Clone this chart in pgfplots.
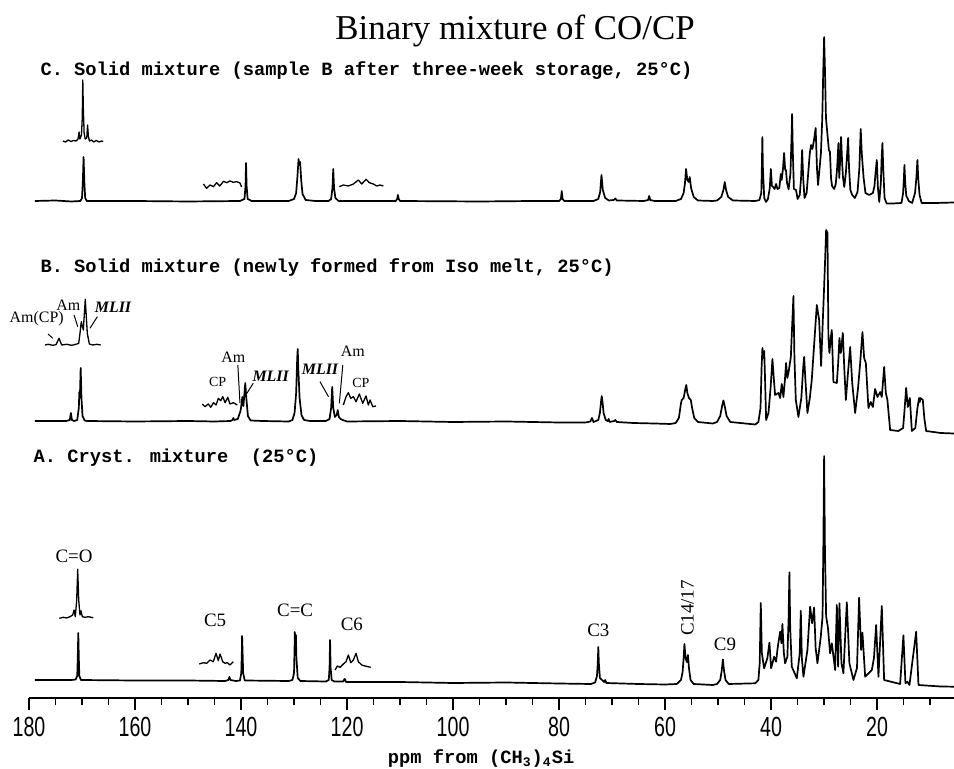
\documentclass[border=0pt]{standalone}
\usepackage{fontspec}
\setmainfont{Liberation Serif}
\newfontfamily\monofont{Liberation Mono}
\newfontfamily\sansfont{Liberation Sans}
\usepackage{pgfplots}
\pgfplotsset{compat=1.18}

\newcommand\lab{\fontsize{9.4}{11}\selectfont\monofont\bfseries}
\newcommand\tl[1]{\scalebox{0.85}[1.2]{#1}}

\begin{document}
\begin{tikzpicture}
\useasboundingbox (-14.5bp,-35.5bp) rectangle (462.5bp,349bp);
\begin{axis}[
  scale only axis,
  width=462.5bp, height=349bp,
  x dir=reverse,
  xmin=5.5, xmax=180, ymin=0, ymax=698,
  axis x line*=bottom, axis y line=none,
  ytick=\empty,
  xtick={20,40,60,80,100,120,140,160,180},
  xticklabels={\tl{20},\tl{40},\tl{60},\tl{80},\tl{100},\tl{120},\tl{140},\tl{160},\tl{180}},
  minor xtick={10,15,...,175},
  tick align=outside,
  major tick length=6bp, minor tick length=3.5bp,
  every tick/.style={black, line width=0.8bp},
  axis line style={line width=1bp},
  xticklabel style={font=\fontsize{11.6}{12}\selectfont\sansfont},
  clip=false,
  spec/.style={black, line width=0.85bp, line join=round, no markers},
  ins/.style={black, line width=0.65bp, line join=round, no markers},
]
% ---------- C. solid mixture after storage
\addplot[spec] coordinates {
(178.9,497)(175,497.5)(172,496.5)(170.3,497)(170.0,500)(169.85,515)(169.7,541)(169.55,515)(169.4,500)(169.1,497)
(160,497)(150,496.5)(140.2,497)(139.35,499)(139.15,512)(139.05,535)(138.95,512)(138.75,499)(138,497)
(131,497)(130.0,499)(129.6,505)(129.35,522)(129.15,539)(129.0,533)(128.85,536)(128.65,518)(128.4,504)(127.8,498)(126,497)
(123.5,497)(123.0,499)(122.75,510)(122.6,529)(122.45,510)(122.2,500)(121.6,497)
(115,497)(110.8,497)(110.55,499)(110.4,503)(110.25,499)(110,497)
(95,496.5)(85,497)(80,497)(79.65,499)(79.5,507)(79.35,499)(79,497)
(73.5,497)(72.6,499)(72.25,506)(72.0,523)(71.75,508)(71.3,500)(70.6,497.5)(69.7,498)(69.4,499.5)(69.1,497.5)
(64,497)(63.2,498)(63.0,502)(62.8,498)(62,497)
(58,497)(57.0,499)(56.5,505)(56.25,515)(56.05,529)(55.8,518)(55.55,516)(55.35,521)(55.1,510)(54.6,501)(53.8,497.5)(51,497)
(50.2,497.5)(49.4,501)(49.0,508)(48.75,516)(48.5,508)(48.1,501)(47.2,497.5)(43,497)
(42.2,498)(41.85,505)(41.75,530)(41.65,561)(41.55,530)(41.3,500)(40.95,496)
(40.6,499)(40.25,510)(40.05,529)(39.85,512)(39.6,511)(39.35,509)(39.06,514)(38.8,509)(38.45,510)(38.17,524)(38.0,518)
(37.75,530)(37.55,545)(37.35,528)(37.2,528)(37.0,515)(36.7,508.7)(36.35,525)(36.15,560)(36.04,584)(35.9,545)(35.7,509)(35.3,508)(35.0,499)
(34.6,503)(34.35,520)(34.15,548)(33.95,520)(33.7,500)(33.3,505)(33.0,525)(32.7,545)(32.45,553)(32.2,549)(31.85,560)(31.6,570)(31.35,530)(31.15,513)
(30.85,530)(30.6,545)(30.35,580)(30.15,630)(30.0,661)(29.85,630)(29.65,580)(29.4,565)(29.1,548)(28.9,546)(28.7,520)(28.5,512)(28.1,509)
(27.8,514)(27.55,530)(27.3,555)(27.15,520)(26.95,540)(26.8,561)(26.6,535)(26.45,521)(26.2,511)(25.9,525)(25.65,545)(25.47,560)(25.3,530)(25.05,508)(24.7,503)(24.2,500)
(23.7,506)(23.35,530)(23.1,569)(22.9,545)(22.75,534)(22.55,520)(22.2,505)(21.5,503)(20.8,505)(20.5,512)(20.3,525)(20.06,538)(19.85,510)(19.6,496)
(19.3,515)(19.15,540)(19.0,555)(18.85,530)(18.6,500)(18.2,494.5)(17,494.5)
(15.4,495)(15.1,505)(14.95,520)(14.85,533)(14.7,515)(14.5,502)(14.25,499.7)(14.05,497)(13.4,495)
(12.85,505)(12.6,520)(12.4,538)(12.25,520)(12.0,503)(11.6,495)(9,495)(5.5,495.5)
};
\addplot[ins] coordinates {
(173.6,557)(173.1,556)(172.6,558)(172.1,556.5)(171.6,557.5)(171.1,557)(170.75,559)(170.55,566)(170.4,559)(170.1,563)
(169.95,580)(169.85,618)(169.75,590)(169.6,565)(169.4,559)(169.1,560)(168.95,573)(168.8,562)(168.6,557)(168.2,558)
(167.8,556)(167.3,557.5)(166.8,556)(166.3,557)(166.0,556.5)
};
\addplot[ins] coordinates {
(147.1,514)(146.5,509.7)(145.85,513)(145.2,511.3)(144.6,515.3)(144.0,512)(143.3,516.7)(142.7,515.3)(142.1,517)
(141.45,515.7)(140.8,516.3)(140.2,515)(139.9,511)
};
\addplot[ins] coordinates {
(121.45,511.3)(120.7,513)(119.75,512)(118.8,514)(117.87,518)(117.23,514)(116.4,518.7)(115.8,515.3)(115.04,514)
(114.4,512)(113.77,513)(113.15,512)
};
% ---------- B. newly formed from Iso melt
\addplot[spec] coordinates {
(178.9,277)(173,277)(172.3,278)(172.1,285)(171.9,278)(171.5,277)(170.9,278)(170.6,290)(170.5,306)(170.4,300)(170.25,330)(170.1,300)(169.9,282)(169.5,277.5)(169,277)
(160,276.5)(150,277)(145,276.5)(142,277)(141.6,278)(141.45,280)(141.3,278)(140.6,279)(140.3,284)(140.15,286)(140.0,290)(139.75,301)(139.55,292)(139.35,305)(139.2,315)(139.0,300)(138.7,282)(138.2,277.5)(136,277)
(131,276.5)(130.3,278)(129.9,285)(129.6,305)(129.4,340)(129.3,349)(129.2,330)(128.95,300)(128.6,283)(128.1,278)(127,277)
(124,277)(123.3,279)(123.0,290)(122.8,311)(122.6,290)(122.3,281)(121.95,283)(121.75,288)(121.55,281)(121.2,279)(120.8,278)(120,276.5)
(110,277)(100,276)(90,276.5)(80,275.5)(75,275.5)(74.1,276.5)(73.8,280)(73.5,276)(72.6,278)(72.3,285)(72.05,298)(71.95,302)(71.8,296)(71.6,285)(71.2,278)
(70.8,277)(70.65,279)(70.45,276)(69.6,277)(69.4,278)(69.1,276)(66,275)(62,274.5)(59,274)
(58.0,275)(57.4,280)(57.0,295)(56.85,298)(56.5,300)(56.15,310)(56.0,313)(55.8,305)(55.5,300)(55.15,298)(54.9,290)(54.5,280)(53.8,276)(51,274.5)
(50.2,276)(49.6,282)(49.25,292)(49.0,297.5)(48.75,292)(48.4,282)(47.7,276)(43,273.5)
(42.4,276)(42.0,290)(41.8,330)(41.64,350)(41.5,340)(41.3,347)(41.15,320)(40.94,278)
(40.5,285)(40.1,310)(39.75,339)(39.5,320)(39.25,303)(38.62,305)(38.3,300)(37.99,314)(37.68,301)(37.4,318)(37.17,335)(36.95,320)(36.73,325)(36.5,333)(36.28,341)
(36.05,370)(35.79,402)(35.6,340)(35.34,298)(34.85,281)(34.3,300)(33.95,330)(33.77,341)(33.55,320)(33.15,285)(32.7,300)(32.33,318)(31.8,360)(31.38,393)(31.15,385)(30.94,378)(30.57,332)
(30.3,370)(30.0,411)(29.8,440)(29.62,468)(29.37,465)(29.19,361)(29.0,345)(28.75,360)(28.55,368)(28.25,316)(27.6,315)(27.35,335)(27.11,360)(26.85,345)(26.47,365)(26.2,330)(25.9,298)
(25.5,325)(25.09,351)(24.7,315)(24.15,285)(23.6,310)(23.2,335)(22.77,366)(22.45,340)(22.13,335)(21.64,290)(21.2,296)(20.8,291)(20.38,309)(19.94,301)(19.43,306)(19.12,301)(18.68,331)(18.36,305)(18.06,298)(17.55,268)
(16,267)(15.1,270)(14.8,290)(14.53,310)(14.21,291)(13.83,300)(13.45,267)(12.8,270)(12.4,290)(12.08,300)(11.95,296)(11.83,300)(11.38,298)(11.1,280)(10.75,267)(8,265)(5.5,264.5)
};
\addplot[ins] coordinates {
(176.98,353)(176.36,353.7)(175.53,352.7)(174.9,353.3)(174.34,359.7)(173.83,353)(172.89,353.7)(171.94,352.7)(171.13,353.7)(170.62,354.7)
(170.38,364.7)(170.13,376.3)(169.75,368)(169.38,398.7)(169.0,364.7)(168.62,354)(167.98,353)(167.23,353.7)(166.47,353)
};
\addplot[ins] coordinates {
(147.3,294)(146.8,291.3)(146.17,294)(145.72,290.7)(145.2,295.3)(144.7,293)(144.28,299.7)(143.83,297.3)(143.45,301.3)(143.0,295.3)
(142.5,300.7)(142.08,294)(141.45,295.3)(140.7,293)
};
\addplot[ins] coordinates {
(120.7,293)(120.19,301.3)(119.75,305.3)(119.3,299.7)(118.8,301.3)(118.3,296.3)(117.68,304)(117.04,294.7)(116.42,302)(115.98,293)
(115.66,298)(115.15,291.3)(114.53,292)
};
% ---------- A. crystalline mixture
\addplot[spec] coordinates {
(178.9,18)(172,18)(171.2,18.5)(170.9,22)(170.8,40)(170.7,65)(170.6,40)(170.5,22)(170.2,18)
(160,17.5)(150,17.5)(143,17)(142.4,18)(142.2,21)(142.0,18)(141,17)(140.2,17.5)(139.95,25)(139.85,45)(139.8,62)(139.7,45)(139.6,25)(139.3,17.5)
(131,17)(130.3,18)(130.0,25)(129.9,50)(129.85,66)(129.75,55)(129.65,63)(129.55,40)(129.3,20)(128.8,17)
(124,16.5)(123.45,18)(123.3,30)(123.2,58)(123.1,30)(122.9,18)(122.4,16.5)(120.7,16.5)(120.5,19)(120.35,18.5)(120.2,16)
(110,16)(100,15)(90,15.5)(80,14.5)(74,14)
(73.2,15.5)(72.85,22)(72.7,35)(72.6,51)(72.5,35)(72.3,20)(71.5,16)(71.3,18)(71.1,15)(65,14)(60,13.5)
(57.8,14)(57.0,18)(56.7,26)(56.5,40)(56.35,54)(56.15,40)(55.9,36)(55.7,43)(55.5,30)(55.2,18)(54.6,14)(51,13)
(50.2,14)(49.6,18)(49.3,28)(49.1,38.7)(48.9,28)(48.6,18)(48,14)(43,14.7)
(42.4,18)(42.15,35)(41.95,95)(41.75,45)(41.32,29.7)(40.7,40)(40.32,55.3)(40.0,29.7)(39.43,41.3)(39.06,36.3)(38.74,51.3)(38.3,66.3)(38.05,54.7)(37.87,74)
(37.6,45)(37.36,34.7)(36.93,41.3)(36.7,80)(36.55,125.7)(36.4,70)(36.1,31.3)(35.15,19.7)(34.6,45)(34.4,87.3)(34.2,40)(33.9,21.3)(33.15,48)(32.64,91.3)
(32.26,74.7)(31.89,90.3)(31.6,50)(31.26,34.7)(30.63,61.3)(30.3,81.3)(30.15,150)(30.0,242)(29.85,150)(29.62,81.3)(29.3,71.3)(28.87,44.7)(28.55,54.7)
(27.92,28)(27.6,93)(27.36,31.3)(27.11,94.7)(26.73,34.7)(26.36,24.7)(25.72,95.7)(25.23,34.7)(24.47,18)(23.8,30)(23.4,100.3)(23.02,48)(22.77,65.3)(22.26,21.3)
(21.0,28)(20.6,40)(20.19,73)(19.75,21.3)(19.12,92)(18.68,18)(15.66,14)(15.04,62.7)(14.66,14.7)(14.28,16.3)(13.9,13)(12.64,66.3)(12.2,13)(8,11.5)(5.5,11.3)
};
\addplot[ins] coordinates {
(174.28,79.7)(173.53,80.7)(172.89,80)(172.26,81.3)(171.75,83)(171.5,88)(171.26,81.3)(171.0,98)(170.81,128.7)(170.62,98)
(170.38,83)(170.19,87.3)(169.94,81.3)(169.43,80.7)(168.81,81.3)(167.87,80.3)
};
\addplot[ins] coordinates {
(147.87,34)(147.1,35.3)(146.47,34.7)(145.85,38)(145.23,36.3)(144.72,44.7)(144.28,37.3)(143.96,44)(143.45,36.3)(143.02,34.7)
(142.58,35.3)(142.08,33)(141.45,36.3)
};
\addplot[ins] coordinates {
(122.26,28)(121.83,32)(121.32,30.7)(120.7,34)(120.19,36.3)(119.75,43)(119.3,35.3)(118.8,38)(118.3,44.7)(117.87,36.3)
(117.23,33)(116.6,32)(115.53,30.7)
};
% ---------- texts
\node[font=\fontsize{17.5}{20}\selectfont] at (axis cs:88.3,667) {Binary mixture of CO/CP};
\node[anchor=west, font=\lab, inner sep=0] at (axis cs:177.9,627) {C. Solid mixture (sample B after three-week storage, 25°C)};
\node[anchor=west, font=\lab, inner sep=0] at (axis cs:177.9,430) {B. Solid mixture (newly formed from Iso melt, 25°C)};
\node[anchor=west, font=\lab, inner sep=0] at (axis cs:179.2,240) {A. Cryst. mixture\ \ (25°C)};
\node[font=\lab] at (axis cs:94.7,-61) {ppm from (CH\textsubscript{3})\textsubscript{4}Si};
% B annotations
\node[font=\fontsize{8}{9}\selectfont] at (axis cs:178.55,379.7) {Am(CP)};
\node[font=\fontsize{8}{9}\selectfont] at (axis cs:172.6,393) {Am};
\node[font=\fontsize{8}{9}\selectfont\itshape\bfseries] at (axis cs:164.15,390.7) {MLII};
\draw[line width=0.5bp] (axis cs:176.4,364) -- (axis cs:175.5,359.7);
\draw[line width=0.5bp] (axis cs:171.5,383) -- (axis cs:170.8,371.3);
\draw[line width=0.5bp] (axis cs:167.1,381.3) -- (axis cs:168.5,369.7);
\node[font=\fontsize{7}{8}\selectfont] at (axis cs:144.4,316.3) {CP};
\node[font=\fontsize{8}{9}\selectfont] at (axis cs:141.45,340.7) {Am};
\draw[line width=0.5bp] (axis cs:140.6,333) -- (axis cs:140.2,295);
\node[font=\fontsize{8}{9}\selectfont\itshape\bfseries] at (axis cs:134.4,321.3) {MLII};
\draw[line width=0.5bp] (axis cs:137.7,314.7) -- (axis cs:139.1,303);
\node[font=\fontsize{8}{9}\selectfont\itshape\bfseries] at (axis cs:125.1,328.7) {MLII};
\draw[line width=0.5bp] (axis cs:125.1,316.3) -- (axis cs:123.5,301.3);
\node[font=\fontsize{8}{9}\selectfont] at (axis cs:118.9,346.3) {Am};
\draw[line width=0.5bp] (axis cs:120.8,333) -- (axis cs:121.45,294.7);
\node[font=\fontsize{7}{8}\selectfont] at (axis cs:117.4,315.3) {CP};
% A annotations
\node[font=\fontsize{9.5}{10}\selectfont] at (axis cs:171.5,141.3) {C=O};
\node[font=\fontsize{9.5}{10}\selectfont] at (axis cs:144.9,78) {C5};
\node[font=\fontsize{9.5}{10}\selectfont] at (axis cs:129.8,87.3) {C=C};
\node[font=\fontsize{9.5}{10}\selectfont] at (axis cs:119.1,74) {C6};
\node[font=\fontsize{9.5}{10}\selectfont] at (axis cs:72.6,68) {C3};
\node[font=\fontsize{9.5}{10}\selectfont, rotate=90] at (axis cs:55.8,90) {C14/17};
\node[font=\fontsize{9.5}{10}\selectfont] at (axis cs:48.7,54) {C9};
\end{axis}
\end{tikzpicture}
\end{document}
